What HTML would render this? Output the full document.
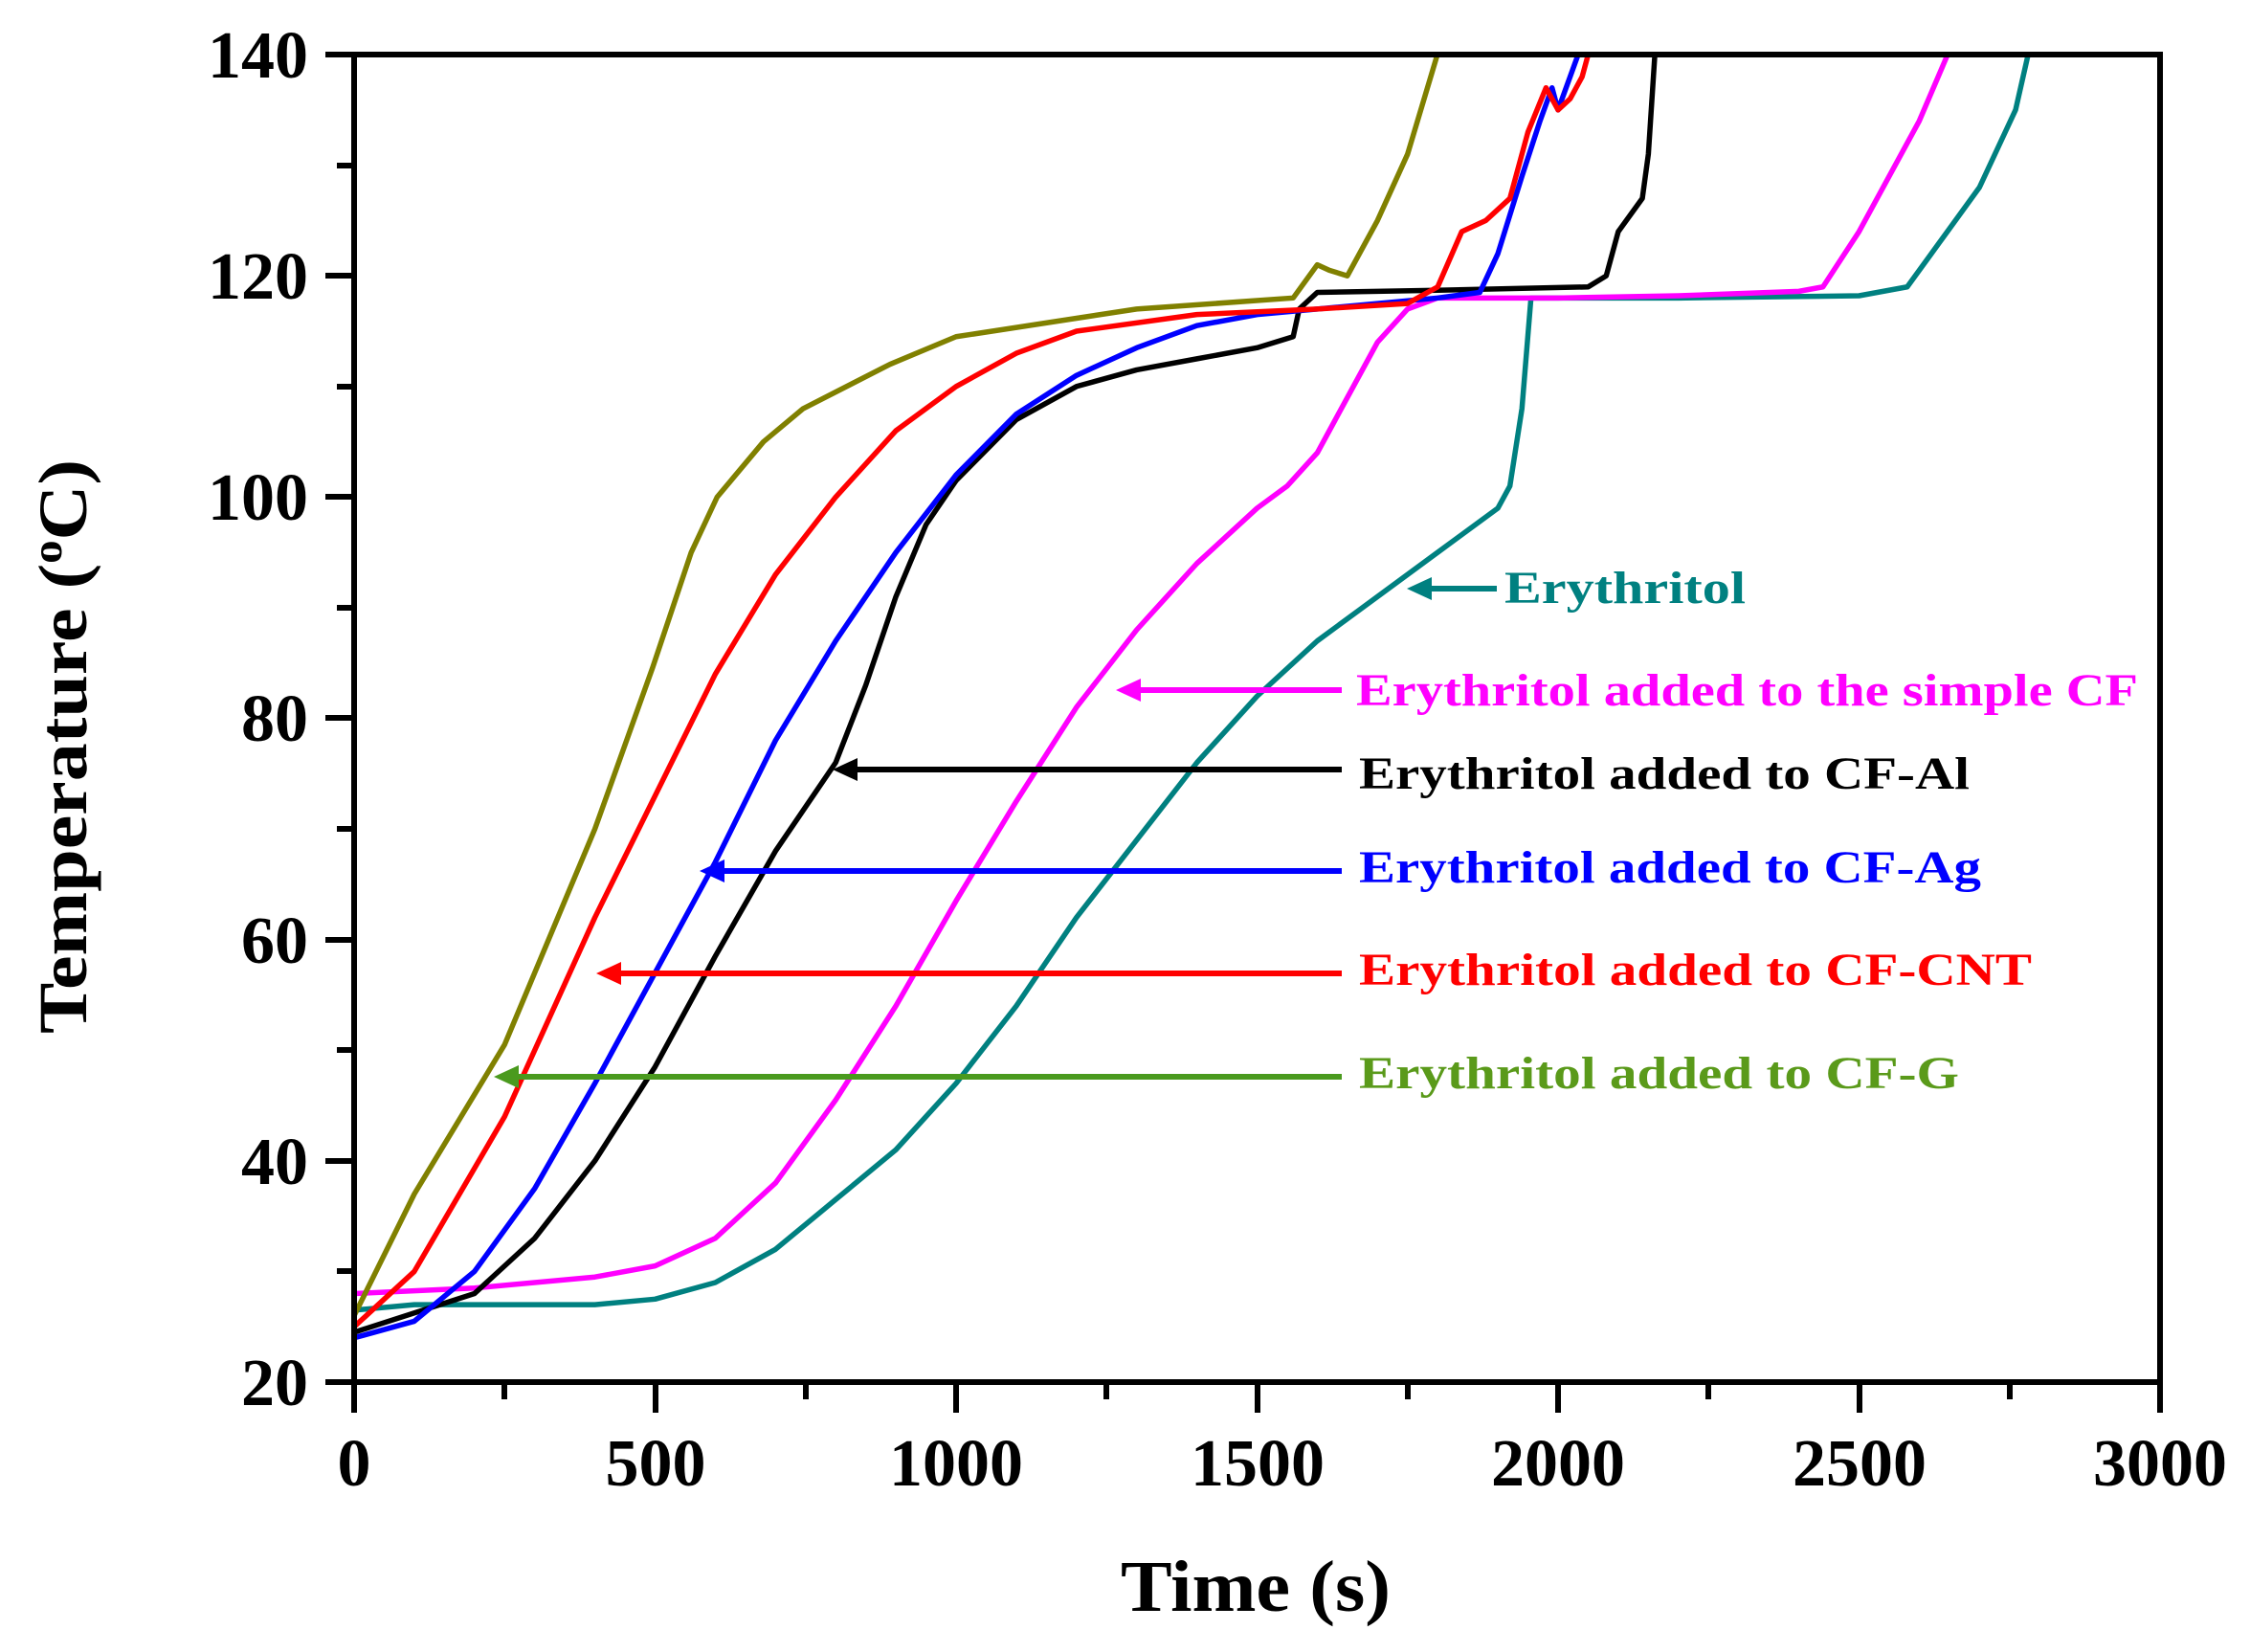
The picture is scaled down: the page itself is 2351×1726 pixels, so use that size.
<!DOCTYPE html>
<html><head><meta charset="utf-8"><style>
html,body{margin:0;padding:0;background:#fff}
svg{display:block}
text{font-family:"Liberation Serif",serif;font-weight:bold}
</style></head><body>
<svg width="2351" height="1726" viewBox="0 0 2351 1726" xmlns="http://www.w3.org/2000/svg">
<defs>
<clipPath id="c"><rect x="370" y="57" width="1887" height="1387"/></clipPath>
</defs>
<g fill="none" stroke-linejoin="round" stroke-width="5.5" clip-path="url(#c)">
<g transform="translate(370,1444) scale(0.629,-11.558) translate(0,-20)">
<polyline vector-effect="non-scaling-stroke" stroke="#008080" points="0,26.5 100,27 400,27 500,27.5 600,29 700,32 800,36.5 900,41 1000,47 1100,54 1200,62 1300,69 1400,76 1500,82 1600,87 1700,91 1800,95 1900,99 1920,101 1940,108 1955,118 2200,118 2500,118.2 2580,119 2620,122 2700,128 2760,135 2785,141"/>
<polyline vector-effect="non-scaling-stroke" stroke="#ff00ff" points="0,28 200,28.5 400,29.5 500,30.5 600,33 700,38 800,45.5 900,54 1000,63.5 1100,72.5 1200,81 1300,88 1400,94 1500,99 1550,101 1600,104 1650,109 1700,114 1750,117 1800,118 2000,118 2200,118.2 2400,118.6 2440,119 2500,124 2550,129 2600,134 2655,141"/>
<polyline vector-effect="non-scaling-stroke" stroke="#000" points="0,24.5 200,28 300,33 400,40 500,48.5 600,58.5 700,68 800,76 850,83 900,91 950,97.5 1000,101.5 1100,107 1200,110 1300,111.5 1400,112.5 1500,113.5 1560,114.5 1570,117 1600,118.5 1800,118.7 2050,119 2080,120 2100,124 2140,127 2150,131 2162,141"/>
<polyline vector-effect="non-scaling-stroke" stroke="#0000ff" points="0,24 100,25.5 200,30 300,37.5 400,47 500,57 600,67 700,78 800,87 900,95 1000,102 1100,107.5 1200,111 1300,113.5 1400,115.5 1500,116.5 1600,117 1800,118 1870,118.5 1900,122 1940,129 1970,134 1990,137 2000,135 2020,138 2040,141"/>
<polyline vector-effect="non-scaling-stroke" stroke="#ff0000" points="0,25 100,30 250,44 400,62 500,73 600,84 700,93 800,100 900,106 1000,110 1100,113 1200,115 1400,116.5 1600,117 1750,117.5 1800,119 1840,124 1880,125 1920,127 1950,133 1980,137 2000,135 2020,136 2040,138 2055,141"/>
<polyline vector-effect="non-scaling-stroke" stroke="#808000" points="0,26 100,37 250,50.5 400,70 496,84.6 560,95 603,100 680,105 746,108 890,112 1000,114.5 1300,117 1560,118 1600,121 1620,120.5 1650,120 1700,125 1750,131 1805,141"/>
</g>
</g>
<g stroke="#000" stroke-width="6" fill="none">
<rect x="370" y="57" width="1887" height="1387"/>
<path d="M370,1444v32M527,1444v18M685,1444v32M842,1444v18M999,1444v32M1156,1444v18M1314,1444v32M1471,1444v18M1628,1444v32M1785,1444v18M1943,1444v32M2100,1444v18M2257,1444v32"/>
<path d="M370,1444h-30M370,1328h-18M370,1213h-30M370,1097h-18M370,982h-30M370,866h-18M370,750h-30M370,635h-18M370,519h-30M370,404h-18M370,288h-30M370,173h-18M370,57h-30"/>
</g>
<g font-size="70" text-anchor="end" fill="#000">
<text x="322" y="1468">20</text>
<text x="322" y="1237">40</text>
<text x="322" y="1006">60</text>
<text x="322" y="774">80</text>
<text x="322" y="543">100</text>
<text x="322" y="312">120</text>
<text x="322" y="81">140</text>
</g>
<g font-size="70" text-anchor="middle" fill="#000">
<text x="370" y="1552">0</text>
<text x="685" y="1552">500</text>
<text x="999" y="1552">1000</text>
<text x="1314" y="1552">1500</text>
<text x="1628" y="1552">2000</text>
<text x="1943" y="1552">2500</text>
<text x="2257" y="1552">3000</text>
</g>
<text x="1312" y="1683" font-size="76" text-anchor="middle" textLength="282" lengthAdjust="spacingAndGlyphs">Time (s)</text>
<text transform="translate(90,780) rotate(-90)" font-size="72" text-anchor="middle" textLength="600" lengthAdjust="spacingAndGlyphs">Temperature (<tspan font-size="44" dy="-26">o</tspan><tspan dy="26">C)</tspan></text>
<g stroke-width="6">
<line x1="1564" y1="615" x2="1490" y2="615" stroke="#008080"/><polygon points="1470,615 1496,603 1496,627" fill="#008080"/>
<line x1="1402" y1="721" x2="1186" y2="721" stroke="#ff00ff"/><polygon points="1166,721 1192,709 1192,733" fill="#ff00ff"/>
<line x1="1402" y1="804" x2="890" y2="804" stroke="#000"/><polygon points="870,804 896,792 896,816" fill="#000"/>
<line x1="1402" y1="910" x2="751" y2="910" stroke="#0000ff"/><polygon points="731,910 757,898 757,922" fill="#0000ff"/>
<line x1="1402" y1="1017" x2="643" y2="1017" stroke="#ff0000"/><polygon points="623,1017 649,1005 649,1029" fill="#ff0000"/>
<line x1="1402" y1="1125" x2="536" y2="1125" stroke="#4a9a1e"/><polygon points="516,1125 542,1113 542,1137" fill="#4a9a1e"/>
</g>
<g font-size="48">
<text x="1572" y="630" fill="#008080" textLength="252" lengthAdjust="spacingAndGlyphs">Erythritol</text>
<text x="1417" y="737" fill="#ff00ff" textLength="817" lengthAdjust="spacingAndGlyphs">Erythritol added to the simple CF</text>
<text x="1420" y="824" fill="#000" textLength="638" lengthAdjust="spacingAndGlyphs">Erythritol added to CF-Al</text>
<text x="1420" y="922" fill="#0000ff" textLength="650" lengthAdjust="spacingAndGlyphs">Erythritol added to CF-Ag</text>
<text x="1420" y="1029" fill="#ff0000" textLength="703" lengthAdjust="spacingAndGlyphs">Erythritol added to CF-CNT</text>
<text x="1420" y="1137" fill="#5a9a1a" textLength="627" lengthAdjust="spacingAndGlyphs">Erythritol added to CF-G</text>
</g>
</svg>
</body></html>
